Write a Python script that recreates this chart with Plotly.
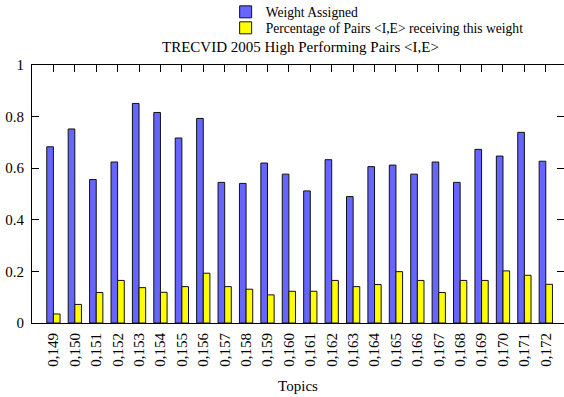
import plotly.graph_objects as go

topics = ["0,149", "0,150", "0,151", "0,152", "0,153", "0,154", "0,155", "0,156",
          "0,157", "0,158", "0,159", "0,160", "0,161", "0,162", "0,163", "0,164",
          "0,165", "0,166", "0,167", "0,168", "0,169", "0,170", "0,171", "0,172"]
weight_assigned = [0.683, 0.752, 0.556, 0.624, 0.851, 0.816, 0.717, 0.793,
                   0.545, 0.541, 0.620, 0.577, 0.512, 0.633, 0.490, 0.606,
                   0.612, 0.577, 0.624, 0.545, 0.673, 0.647, 0.739, 0.627]
pct_pairs = [0.035, 0.072, 0.118, 0.165, 0.137, 0.119, 0.141, 0.193,
             0.141, 0.131, 0.109, 0.123, 0.123, 0.165, 0.141, 0.149,
             0.199, 0.165, 0.118, 0.165, 0.165, 0.202, 0.185, 0.150]
y_ticks = [0, 0.2, 0.4, 0.6, 0.8, 1]
y_ticklabels = ["0", "0.2", "0.4", "0.6", "0.8", "1"]

FONT = "Liberation Serif, Tinos, DejaVu Serif, serif"
W, H = 564, 397

fig = go.Figure()
fig.add_trace(go.Bar(x=list(range(len(topics))), y=weight_assigned, name="Weight Assigned",
                     legend="legend",
                     marker=dict(color="#6666ff", line=dict(color="#111111", width=1))))
fig.add_trace(go.Bar(x=list(range(len(topics))), y=pct_pairs,
                     name="Percentage of Pairs &lt;I,E&gt; receiving this weight",
                     legend="legend2",
                     marker=dict(color="#ffff00", line=dict(color="#111111", width=1))))

leg_common = dict(x=0.364, xanchor="left", yref="container", yanchor="middle",
                  font=dict(family=FONT, size=13.6, color="black"),
                  bgcolor="rgba(0,0,0,0)", borderwidth=0)

fig.update_layout(
    width=W, height=H,
    margin=dict(l=32, r=0, t=65, b=74),
    paper_bgcolor="white", plot_bgcolor="white",
    font=dict(family=FONT, size=13, color="black"),
    barmode="group", bargap=0.38, bargroupgap=0,
    showlegend=True,
    legend=dict(y=1 - 12 / H, **leg_common),
    legend2=dict(y=1 - 28 / H, **leg_common),
    annotations=[dict(text="TRECVID 2005 High Performing Pairs &lt;I,E&gt;",
                      xref="paper", yref="paper", x=0.504, y=1, yshift=18,
                      xanchor="center", yanchor="middle", showarrow=False,
                      font=dict(family=FONT, size=15))],
)
fig.update_xaxes(
    tickmode="array", tickvals=list(range(len(topics))), ticktext=topics,
    range=[-1, 23.85], tickangle=-90,
    showline=True, linecolor="black", linewidth=1, mirror="ticks",
    ticks="inside", ticklen=7, tickcolor="black", showgrid=False, zeroline=False,
    tickfont=dict(family=FONT, size=15), ticklabelstandoff=3,
    title=dict(text="Topics", font=dict(family=FONT, size=15), standoff=14),
    layer="below traces",
)
fig.update_yaxes(
    range=[0, 1], tickmode="array", tickvals=y_ticks, ticktext=y_ticklabels,
    showline=True, linecolor="black", linewidth=1, mirror="ticks",
    ticks="inside", ticklen=7, tickcolor="black", showgrid=False, zeroline=False,
    tickfont=dict(family=FONT, size=15), ticklabelstandoff=4,
)

fig.write_html("out.html", config={"displayModeBar": False},
               post_script="document.body.style.margin='0px';")
